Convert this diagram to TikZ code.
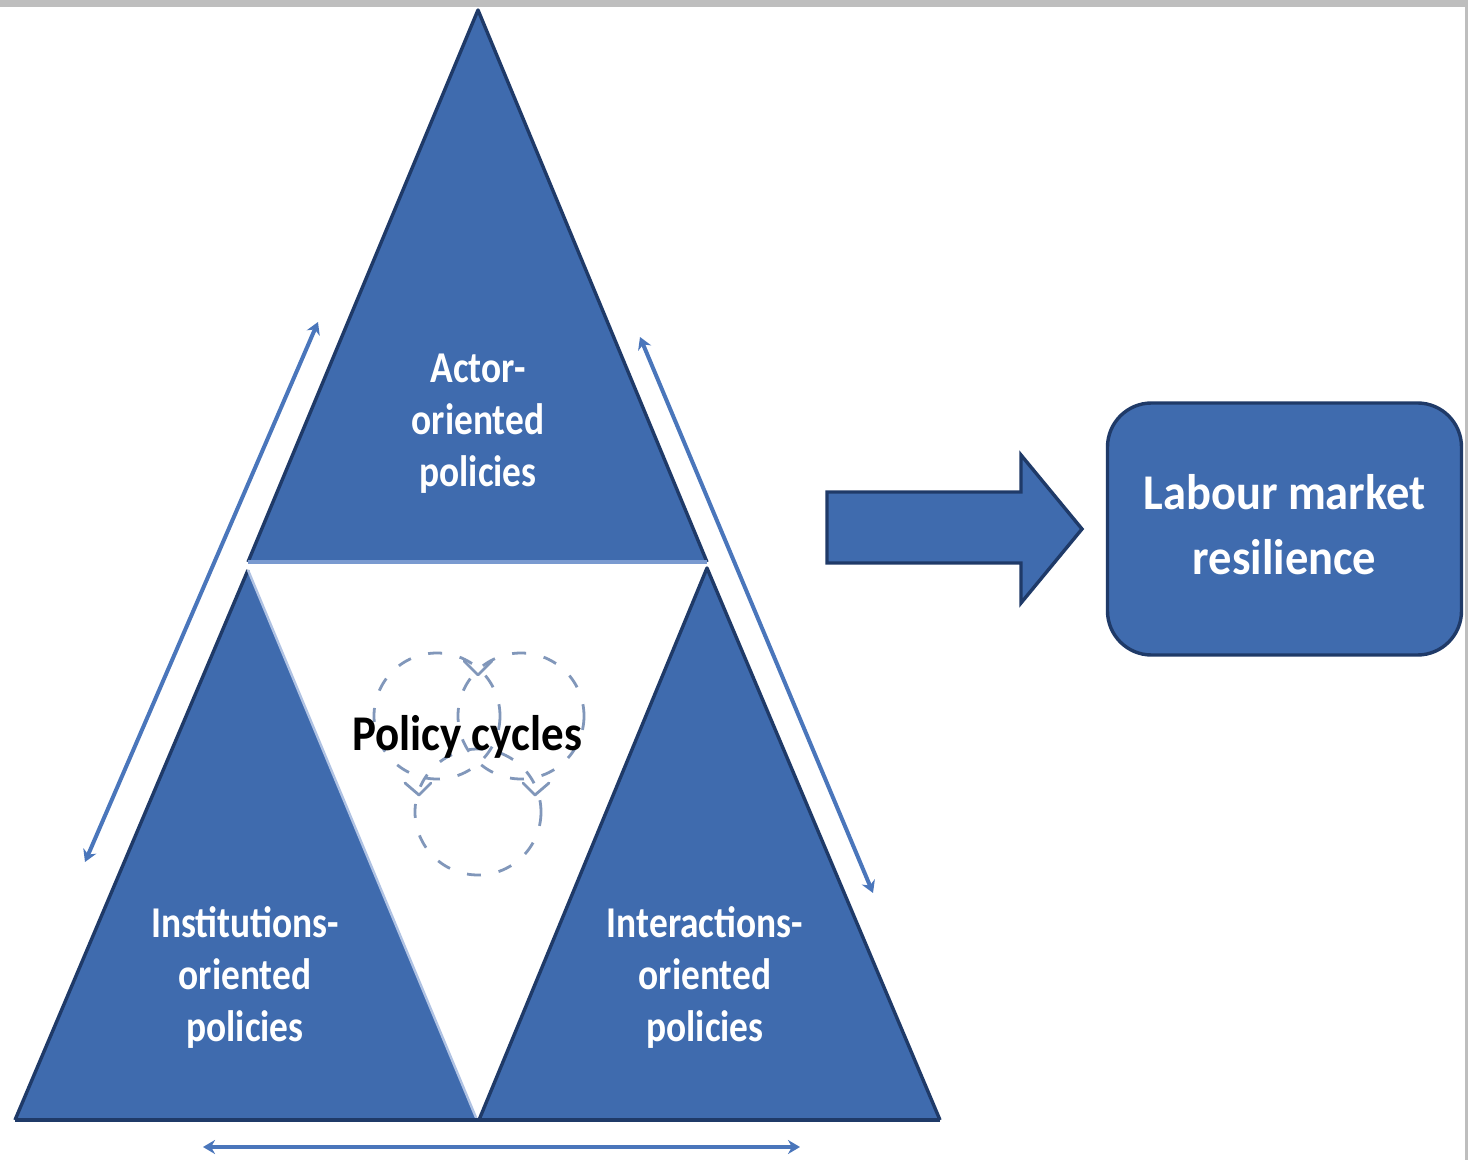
\documentclass[tikz,border=0pt]{standalone}
\usepackage{fontspec}
\setmainfont{Carlito}
\usetikzlibrary{arrows.meta}
\definecolor{tblue}{HTML}{3F6BAE}
\definecolor{tdark}{HTML}{1F3A68}
\definecolor{tlight}{HTML}{7A9AD0}
\definecolor{tarrow}{HTML}{4A76BB}
\definecolor{tcyc}{HTML}{8197BA}
\definecolor{tgray}{HTML}{BEBEBE}
\tikzset{
  tri/.style={fill=tblue},
  edge/.style={draw=tdark, line width=1.7pt, line join=round},
  thinarr/.style={draw=tarrow, line width=2pt, {Stealth[length=6pt,width=7pt]}-{Stealth[length=6pt,width=7pt]}},
  wtext/.style={text=white, align=center, font=\fontsize{22}{26}\selectfont\bfseries},
  cyc/.style={draw=tcyc, line width=1.4pt, dash pattern=on 7pt off 9pt},
  chev/.style={draw=tcyc, line width=1.4pt, line cap=round, line join=round},
}
\begin{document}
\begin{tikzpicture}[x=0.5pt,y=-0.5pt]
\useasboundingbox (0,0) rectangle (1468,1160);
\fill[white] (0,0) rectangle (1468,1160);
% screenshot border
\fill[tgray] (0,0) rectangle (1468,7);
\fill[tgray] (1465,0) rectangle (1468,1160);

% triangle corners
\coordinate (apex) at (478,10);
\coordinate (tl) at (248,562);
\coordinate (tr) at (707,562);
\coordinate (bl) at (15,1120);
\coordinate (bm) at (477,1120);
\coordinate (br) at (940,1120);

% top triangle
\fill[tri] (apex) -- (tr) -- (tl) -- cycle;
% bottom-left triangle
\fill[tri] (248,570) -- (bm) -- (bl) -- cycle;
% bottom-right triangle
\fill[tri] (707,568) -- (br) -- (479,1120) -- cycle;

% edges
\draw[edge] (tl) -- (apex) -- (tr);
\draw[draw=tlight, line width=1.6pt] (tl) -- (tr);
\draw[edge] (bl) -- (248,570);
\draw[draw=tlight!60!white, line width=1.2pt] (248,570) -- (bm);
\draw[edge] (479,1120) -- (707,568) -- (br);
\draw[edge] (bl) -- (br);

% policy cycles
\draw[cyc] (437,716) circle[radius=63];
\draw[cyc] (521,716) circle[radius=63];
\draw[cyc] (478,812) circle[radius=63];
\draw[chev] (464,661) -- (478,675) -- (492,661);
\draw[chev] (405,783) -- (419,795) -- (431,783);
\draw[chev] (523,783) -- (535,795) -- (549,783);

% texts
\node[wtext] (actor) at (478,424) {\scalebox{0.85}[1]{\begin{tabular}{@{}c@{}}Actor-\\oriented\\policies\end{tabular}}};
\node[wtext] (inst) at (245,979) {\scalebox{0.85}[1]{\begin{tabular}{@{}c@{}}Institutions-\\oriented\\policies\end{tabular}}};
\node[wtext] (inter) at (705,979) {\scalebox{0.85}[1]{\begin{tabular}{@{}c@{}}Interactions-\\oriented\\policies\end{tabular}}};
\node[text=black, font=\fontsize{25}{30}\selectfont\bfseries] (cycles) at (467,737) {\scalebox{0.9}[1]{Policy cycles}};

% thin double arrows
\coordinate (la1) at (85,862);
\coordinate (la2) at (318,322);
\coordinate (ra1) at (640,337);
\coordinate (ra2) at (873,893);
\coordinate (ba1) at (203,1147);
\coordinate (ba2) at (800,1147);
\draw[thinarr] (la1) -- (la2);
\draw[thinarr] (ra1) -- (ra2);
\draw[thinarr] (ba1) -- (ba2);

% result box
\node[draw=tdark, line width=1.7pt, fill=tblue, rounded corners=22pt,
      minimum width=177pt, minimum height=126pt, inner sep=0pt,
      text=white, align=center, font=\fontsize{25}{32.5}\selectfont\bfseries] (lmr) at (1284.5,529)
      {\scalebox{0.93}[1]{\begin{tabular}{@{}c@{}}Labour market\\resilience\end{tabular}}};

% block arrow
\draw[edge, fill=tblue, line join=miter] (827,492) -- (1021,492) -- (1021,455) -- (1082,529)
  -- (1021,603) -- (1021,563) -- (827,563) -- cycle;
\end{tikzpicture}
\end{document}
